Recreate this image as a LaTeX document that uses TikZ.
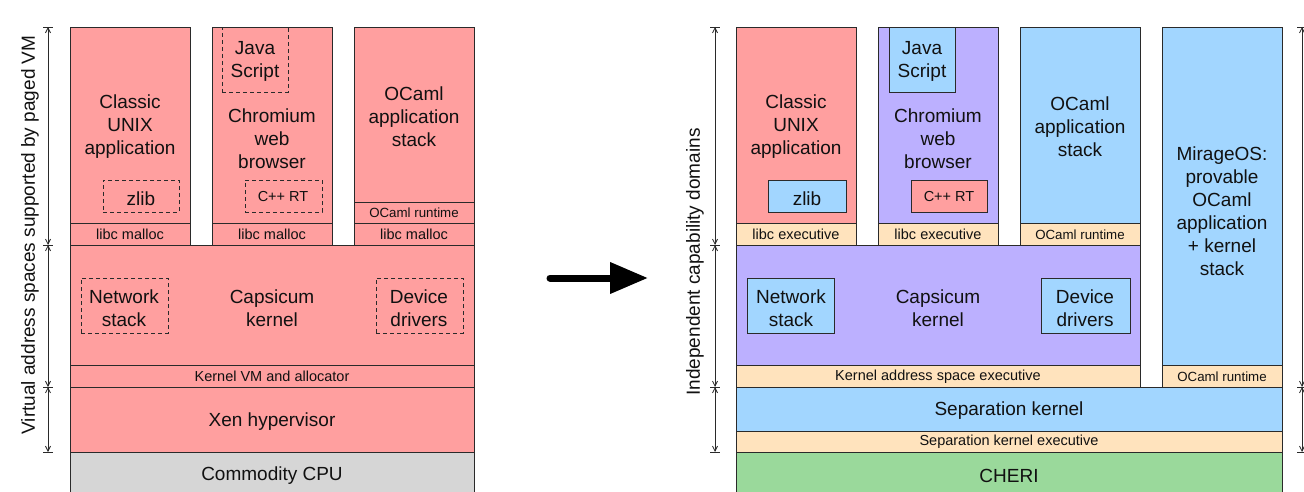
\documentclass[tikz,border=0pt]{standalone}
\usepackage{fontspec}
\setmainfont{Liberation Sans}
\usetikzlibrary{arrows.meta,fit}
\definecolor{pinkc}{HTML}{FF9F9F}
\definecolor{purpc}{HTML}{BCB0FF}
\definecolor{bluec}{HTML}{A2D6FF}
\definecolor{peachc}{HTML}{FFE3BD}
\definecolor{greenc}{HTML}{9AD99B}
\definecolor{grayc}{HTML}{D6D6D6}
\definecolor{edgec}{HTML}{2A2A2A}
\definecolor{txtc}{HTML}{111111}
\tikzset{
  blk/.style={draw=edgec, line width=0.9pt, inner sep=0pt, outer sep=0pt},
  dsh/.style={blk, dash pattern=on 4pt off 3pt},
  bigr/.style={font=\fontsize{19}{23}\selectfont, align=center, inner sep=0pt, text=txtc},
  big/.style={bigr, yshift=-3pt},
  sml/.style={font=\fontsize{14.5}{17}\selectfont, align=center, inner sep=0pt, text=txtc, yshift=-0.5pt},
  tny/.style={font=\fontsize{13.3}{16}\selectfont, align=center, inner sep=0pt, text=txtc, yshift=-0.5pt},
  dim/.style={draw=edgec, line width=0.8pt, {Straight Barb[length=5pt,width=5pt]}-{Straight Barb[length=5pt,width=5pt]}},
  tick/.style={draw=edgec, line width=0.8pt},
  bigarrow/.style={draw=black, line width=7pt, line cap=round, -{Triangle[length=38pt,width=30pt]}}
}
\newcommand\mkblk[6]{\coordinate (#1a) at (#2,#3); \coordinate (#1b) at (#4,#5);
  \node[blk,#6,fit=(#1a)(#1b)] (#1) {};}
\newcommand\mktick[1]{\draw[tick] ([xshift=-5pt]#1) -- ([xshift=5pt]#1);}
\begin{document}
\begin{tikzpicture}[x=1pt,y=-1pt]
\useasboundingbox (0,0) rectangle (1304,492);
% ---------------- Left panel ----------------
\mkblk{Lc1}{70}{27}{190}{223}{fill=pinkc}
\mkblk{Lc1l}{70}{223}{190}{245}{fill=pinkc}
\mkblk{Lc2}{212}{27}{332}{223}{fill=pinkc}
\mkblk{Lc2l}{212}{223}{332}{245}{fill=pinkc}
\mkblk{Lc3}{354}{27}{474}{202}{fill=pinkc}
\mkblk{Lc3r}{354}{202}{474}{223}{fill=pinkc}
\mkblk{Lc3l}{354}{223}{474}{245}{fill=pinkc}
\mkblk{Lk}{70}{245}{474}{365}{fill=pinkc}
\mkblk{Lkvm}{70}{365}{474}{387}{fill=pinkc}
\mkblk{Lxen}{70}{387}{474}{452}{fill=pinkc}
\mkblk{Lcpu}{70}{452}{474}{493}{fill=grayc}
\mkblk{Lzlib}{103}{180}{179}{212}{dsh}
\mkblk{Lcpp}{245}{180}{322}{212}{dsh}
\mkblk{Ljs}{222}{27}{288}{92}{dsh}
\mkblk{Lnet}{81}{278}{168}{333}{dsh}
\mkblk{Ldev}{376}{278}{463}{333}{dsh}
\node[big] (tLunix) at (130,124) {Classic\\UNIX\\application};
\node[big] (tLchr) at (272,136) {Chromium\\web\\browser};
\node[big] (tLoc) at (414,114) {OCaml\\application\\stack};
\node[big] (tLjs) at (255,58) {Java\\Script};
\node[big] (tLzlib) at (141,196) {zlib};
\node[sml] (tLcpp) at (283,196) {C++ RT};
\node[sml] (tLl1) at (130,234) {libc malloc};
\node[sml] (tLl2) at (272,234) {libc malloc};
\node[sml] (tLl3) at (414,234) {libc malloc};
\node[tny] (tLrt) at (414,212) {OCaml runtime};
\node[big] (tLnet) at (124,305) {Network\\stack};
\node[big] (tLcap) at (272,305) {Capsicum\\kernel};
\node[big] (tLdev) at (419,305) {Device\\drivers};
\node[sml] (tLkvm) at (272,376) {Kernel VM and allocator};
\node[big] (tLxen) at (272,419) {Xen hypervisor};
\node[big] (tLcpu) at (272,473) {Commodity CPU};
% left dimension
\coordinate (dl0) at (48,27); \coordinate (dl1) at (48,245);
\coordinate (dl2) at (48,387); \coordinate (dl3) at (48,452);
\draw[dim] (dl0) -- (dl1); \draw[dim] (dl1) -- (dl2); \draw[dim] (dl2) -- (dl3);
\mktick{dl0}\mktick{dl1}\mktick{dl2}\mktick{dl3}
\node[bigr, rotate=90] (tLdim) at (30,235) {Virtual address spaces supported by paged VM};
% ---------------- Arrow ----------------
\coordinate (ar0) at (550,278); \coordinate (ar1) at (648,278);
\draw[bigarrow] (ar0) -- (ar1);
% ---------------- Right panel ----------------
\mkblk{Rc1}{736}{27}{856}{223}{fill=pinkc}
\mkblk{Rc1l}{736}{223}{856}{245}{fill=peachc}
\mkblk{Rc2}{878}{27}{998}{223}{fill=purpc}
\mkblk{Rc2l}{878}{223}{998}{245}{fill=peachc}
\mkblk{Rc3}{1020}{27}{1140}{223}{fill=bluec}
\mkblk{Rc3l}{1020}{223}{1140}{245}{fill=peachc}
\mkblk{Rc4}{1162}{27}{1282}{365}{fill=bluec}
\mkblk{Rc4r}{1162}{365}{1282}{387}{fill=peachc}
\mkblk{Rk}{736}{245}{1140}{365}{fill=purpc}
\mkblk{Rkas}{736}{365}{1140}{387}{fill=peachc}
\mkblk{Rsep}{736}{387}{1282}{431}{fill=bluec}
\mkblk{Rsepx}{736}{431}{1282}{452}{fill=peachc}
\mkblk{Rcheri}{736}{452}{1282}{493}{fill=greenc}
\mkblk{Rjs}{889}{27}{955}{92}{fill=bluec}
\mkblk{Rzlib}{768}{180}{846}{212}{fill=bluec}
\mkblk{Rcpp}{911}{180}{987}{212}{fill=pinkc}
\mkblk{Rnet}{747}{278}{834}{333}{fill=bluec}
\mkblk{Rdev}{1041}{278}{1130}{333}{fill=bluec}
\node[big] (tRunix) at (796,124) {Classic\\UNIX\\application};
\node[big] (tRchr) at (938,136) {Chromium\\web\\browser};
\node[big] (tRoc) at (1080,124) {OCaml\\application\\stack};
\node[big] (tRjs) at (922,58) {Java\\Script};
\node[big] (tRzlib) at (807,196) {zlib};
\node[sml] (tRcpp) at (949,196) {C++ RT};
\node[sml] (tRl1) at (796,234) {libc executive};
\node[sml] (tRl2) at (938,234) {libc executive};
\node[tny] (tRrt1) at (1080,234) {OCaml runtime};
\node[big] (tRmir) at (1222,208) {MirageOS:\\provable\\OCaml\\application\\+ kernel\\stack};
\node[big] (tRnet) at (791,305) {Network\\stack};
\node[big] (tRcap) at (938,305) {Capsicum\\kernel};
\node[big] (tRdev) at (1085,305) {Device\\drivers};
\node[sml] (tRkas) at (938,376) {Kernel address space executive};
\node[tny] (tRrt2) at (1222,376) {OCaml runtime};
\node[big] (tRsep) at (1009,408) {Separation kernel};
\node[sml] (tRsepx) at (1009,441) {Separation kernel executive};
\node[big] (tRcheri) at (1009,473) {CHERI};
% right dimension
\coordinate (dr0) at (715,27); \coordinate (dr1) at (715,245);
\coordinate (dr2) at (715,387); \coordinate (dr3) at (715,452);
\draw[dim] (dr0) -- (dr1); \draw[dim] (dr1) -- (dr2); \draw[dim] (dr2) -- (dr3);
\mktick{dr0}\mktick{dr1}\mktick{dr2}\mktick{dr3}
\node[bigr, rotate=90] (tRdim) at (695,262) {Independent capability domains};
% far right dimension
\coordinate (df0) at (1302,27); \coordinate (df1) at (1302,387); \coordinate (df2) at (1302,452);
\draw[dim] (df0) -- (df1); \draw[dim] (df1) -- (df2);
\mktick{df0}\mktick{df1}\mktick{df2}
\end{tikzpicture}
\end{document}
